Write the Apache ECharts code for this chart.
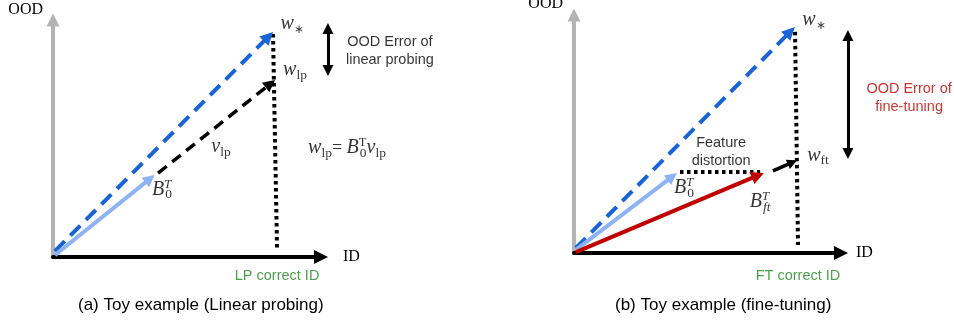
<!DOCTYPE html>
<html>
<head>
<meta charset="utf-8">
<script src="https://cdn.jsdelivr.net/npm/echarts@6.0.0/dist/echarts.min.js"></script>
<style>
    html, body { margin: 0; padding: 0; background: #fff; }
    #main { width: 954px; height: 323px; }
</style>
</head>
<body>
<div id="main"></div>
<script>
    // panel (a) linear probing: vectors as [start, end] in axis units
    var wStarA = [[0.07, 0.25], [8.04, 9.30]];
    var b0A = [[0.07, 0.08], [3.62, 3.30]];
    var vlpA = [[3.92, 3.54], [8.11, 7.31]];
    var dropA = [[8.21, 9.41], [8.36, 0.30]];
    var errA = [[10.26, 9.64], [10.26, 7.87]];
    var textA = [
        '{w|w}{st|∗}',
        '{w|w}{s|lp}',
        '{w|v}{s|lp}',
        '{w|B}{p|T}{s|0}',
        '{w|w}{s|lp}{eq|= }{w|B}{pr|T}{s|0}{w|v}{s|lp}',
        '{t|OOD Error of}\n{t|linear probing}',
        '{g|LP correct ID}'
    ];
    var textPosA = [[8.92, 9.83], [9.03, 7.89], [6.27, 4.64], [4.07, 2.83], [10.97, 4.60], [12.57, 8.69], [8.36, -0.80]];

    // panel (b) fine-tuning
    var wStarB = [[0.07, 0.21], [8.10, 9.30]];
    var b0B = [[0.07, 0.13], [3.68, 3.21]];
    var bftB = [[0.07, 0.04], [6.89, 3.26]];
    var distortB = [[3.97, 3.40], [6.97, 3.40]];
    var headB = [[7.45, 3.45], [8.18, 3.81]];
    var dropB = [[8.28, 9.29], [8.39, 0.34]];
    var errB = [[10.26, 9.14], [10.26, 4.18]];
    var textB = [
        '{w|w}{st|∗}',
        '{w|w}{s|ft}',
        '{w|B}{p|T}{s|0}',
        '{w|B}{p|T}{si|ft}',
        '{t|Feature}\n{t|distortion}',
        '{r|OOD Error of}\n{r|fine-tuning}',
        '{g|FT correct ID}'
    ];
    var textPosB = [[8.99, 9.79], [9.14, 4.08], [4.12, 2.73], [6.97, 2.14], [5.51, 4.24], [12.55, 6.51], [8.39, -0.97]];

    var captions = ['(a) Toy example (Linear probing)', '(b) Toy example (fine-tuning)'];
    var axisNames = ['OOD', 'ID'];

    var serif = 'Liberation Serif';
    var sans = 'Liberation Sans';
    var rich = {
        w: {fontFamily: serif, fontStyle: 'italic', fontSize: 20, lineHeight: 24, align: 'left', color: '#000'},
        s: {fontFamily: serif, fontSize: 13.5, lineHeight: 14, verticalAlign: 'bottom', align: 'left', color: '#000'},
        si: {fontFamily: serif, fontStyle: 'italic', fontSize: 13.5, lineHeight: 14, verticalAlign: 'bottom',
            align: 'left', color: '#000'},
        st: {fontFamily: serif, fontSize: 12, lineHeight: 14, verticalAlign: 'bottom', align: 'left', color: '#000'},
        p: {fontFamily: serif, fontStyle: 'italic', fontSize: 12.5, lineHeight: 13, verticalAlign: 'top',
            align: 'left', width: 1, color: '#000'},
        pr: {fontFamily: serif, fontSize: 12.5, lineHeight: 13, verticalAlign: 'top',
            align: 'left', width: 1, color: '#000'},
        eq: {fontFamily: serif, fontSize: 18, lineHeight: 24, align: 'left', color: '#000'},
        t: {fontFamily: sans, fontSize: 14.5, lineHeight: 18, color: '#000'},
        r: {fontFamily: sans, fontSize: 14.5, lineHeight: 18, color: '#c00000'},
        g: {fontFamily: sans, fontSize: 14.5, lineHeight: 18, color: '#1e8a1e'}
    };

    function arrow(idx, coords, color, width, type, size, both) {
        return {
            type: 'lines',
            coordinateSystem: 'cartesian2d',
            xAxisIndex: idx,
            yAxisIndex: idx,
            clip: false,
            silent: true,
            symbol: both ? ['triangle', 'triangle'] : ['none', 'triangle'],
            symbolSize: size,
            lineStyle: {color: color, width: width, type: type, cap: 'butt', opacity: 1},
            data: [{coords: coords}]
        };
    }

    function labels(idx, texts, pos) {
        return {
            type: 'scatter',
            xAxisIndex: idx,
            yAxisIndex: idx,
            clip: false,
            silent: true,
            symbolSize: 1,
            itemStyle: {color: 'rgba(0,0,0,0)'},
            label: {
                show: true,
                position: 'inside',
                formatter: function (p) { return p.name; },
                rich: rich
            },
            data: texts.map(function (t, i) { return {name: t, value: pos[i]}; })
        };
    }

    function xAxis(idx, gap) {
        return {
            type: 'value', gridIndex: idx, min: 0, max: 10,
            name: axisNames[1], nameLocation: 'end', nameGap: gap,
            nameTextStyle: {fontFamily: serif, fontSize: 16, color: '#000', verticalAlign: 'middle'},
            axisLine: {show: true, symbol: ['none', 'triangle'], symbolSize: [14, 14],
                lineStyle: {color: '#000', width: 4}},
            axisTick: {show: false}, axisLabel: {show: false}, splitLine: {show: false}
        };
    }

    function yAxis(idx, gap, pad) {
        return {
            type: 'value', gridIndex: idx, min: 0, max: 10,
            name: axisNames[0], nameLocation: 'end', nameGap: gap,
            nameTextStyle: {fontFamily: serif, fontSize: 16, color: '#000', align: 'right',
                verticalAlign: 'middle', padding: [0, pad, 0, 0]},
            axisLine: {show: true, symbol: ['none', 'triangle'], symbolSize: [13, 13],
                lineStyle: {color: '#b3b3b3', width: 4}},
            axisTick: {show: false}, axisLabel: {show: false}, splitLine: {show: false}
        };
    }

    var chart = echarts.init(document.getElementById('main'));
    chart.setOption({
        animation: false,
        title: [
            {text: captions[0], left: 78, top: 297, padding: 0,
                textStyle: {fontFamily: sans, fontSize: 17, fontWeight: 'normal', color: '#000'}},
            {text: captions[1], left: 615, top: 297, padding: 0,
                textStyle: {fontFamily: sans, fontSize: 17, fontWeight: 'normal', color: '#000'}}
        ],
        grid: [
            {left: 53, top: 20, width: 268, height: 237, outerBoundsMode: 'none'},
            {left: 574, top: 15, width: 267, height: 238, outerBoundsMode: 'none'}
        ],
        xAxis: [xAxis(0, 22), xAxis(1, 15)],
        yAxis: [yAxis(0, 10, 10), yAxis(1, 11, 11)],
        series: [
            arrow(0, dropA, '#000', 4, [3.5, 3.5], 0),
            arrow(0, wStarA, '#1763d8', 4, [14, 8], 13),
            arrow(0, vlpA, '#000', 3.5, [11, 7], 12),
            arrow(0, b0A, '#8db3f5', 4, 'solid', 12),
            arrow(0, errA, '#000', 3, 'solid', 11, true),
            labels(0, textA, textPosA),

            arrow(1, dropB, '#000', 4, [3.5, 3.5], 0),
            arrow(1, distortB, '#000', 4, [3.5, 3.5], 0),
            arrow(1, wStarB, '#1763d8', 4, [14, 8], 13),
            arrow(1, b0B, '#8db3f5', 4, 'solid', 12),
            arrow(1, bftB, '#c00000', 4, 'solid', 13),
            arrow(1, headB, '#000', 3.5, 'solid', 10),
            arrow(1, errB, '#000', 3, 'solid', 11, true),
            labels(1, textB, textPosB)
        ]
    });
</script>
</body>
</html>
